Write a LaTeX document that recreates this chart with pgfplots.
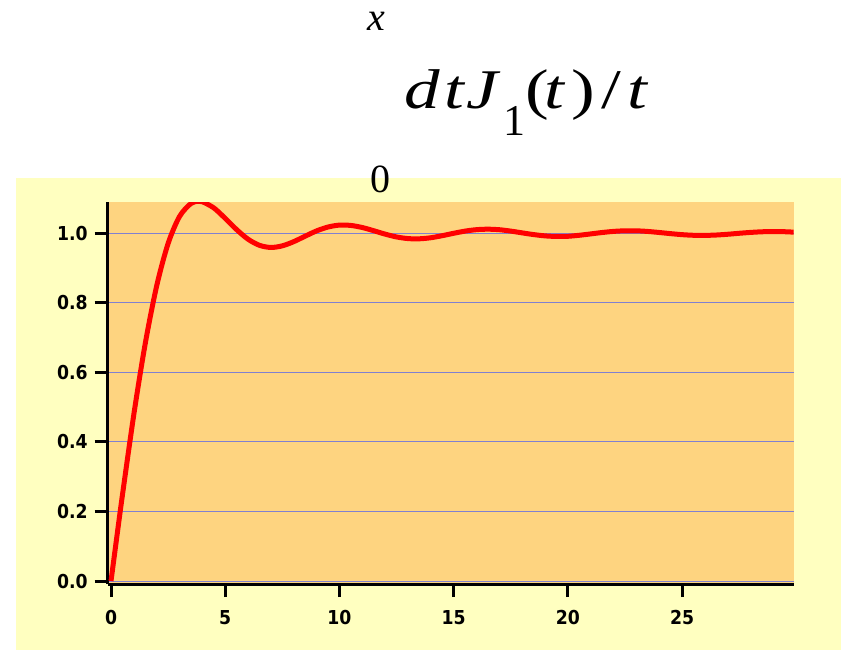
\documentclass[border=0pt]{standalone}
\usepackage{fontspec}
\setmainfont{Liberation Serif}
\setsansfont{DejaVu Sans}
\newfontfamily\tickfont{DejaVu Sans Condensed}
\usepackage{graphicx}
\usepackage{pgfplots}
\pgfplotsset{compat=1.18}
\definecolor{outeryellow}{RGB}{255,255,192}
\definecolor{plotorange}{RGB}{254,212,128}
\definecolor{gridblue}{RGB}{128,128,208}

% one glyph of the title in a box of fixed width
\newcommand{\gl}[2]{\makebox[#1][l]{#2}}

\begin{document}
\begin{tikzpicture}
% page: 841 x 650 px at 0.5pt per px
\useasboundingbox (0,0) rectangle (420.5pt,-325pt);
\fill[white] (0,0) rectangle (420.5pt,-325pt);
\fill[outeryellow] (8pt,-89pt) rectangle (420.5pt,-325pt);

% title: integral of J1(t)/t from 0 to x (integral sign not drawn)
\tikzset{tt/.style={anchor=base west, inner sep=0pt}}
\node[tt] at (183.5pt,-15pt) {\fontsize{20}{22}\selectfont\itshape x};
\node[tt] at (185pt,-96pt) {\fontsize{20}{22}\selectfont 0};
\node[tt] at (202pt,-54pt) {\fontsize{28}{32}\selectfont
  \gl{20pt}{\scalebox{1.27}[1]{\itshape d}}%
  \gl{11pt}{\scalebox{1.27}[1]{\itshape t}}%
  \gl{18.5pt}{\scalebox{1.27}[1]{\itshape J}}%
  \gl{11pt}{\raisebox{-13.5pt}{\fontsize{22}{24}\selectfont 1}}%
  \gl{9.5pt}{\scalebox{1.27}[1]{(}}%
  \gl{13.5pt}{\scalebox{1.27}[1]{\itshape t}}%
  \gl{15pt}{\scalebox{1.27}[1]{)}}%
  \gl{13pt}{\scalebox{1.27}[1]{/}}%
  \scalebox{1.27}[1]{\itshape t}};

\begin{axis}[
    at={(53.85pt,-292pt)}, anchor=south west,
    scale only axis,
    width=343pt, height=191pt,
    xmin=-0.145, xmax=29.88,
    ymin=-0.0086, ymax=1.09,
    axis x line=bottom, axis y line=left,
    axis line style={-, line width=1.5pt, black},
    axis background/.style={fill=plotorange},
    xtick={0,5,10,15,20,25},
    ytick={0,0.2,0.4,0.6,0.8,1.0},
    yticklabel style={/pgf/number format/.cd, fixed, fixed zerofill, precision=1},
    xticklabel style={yshift=-3pt},
    /pgf/number format/assume math mode=true,
    tick align=outside,
    major tick length=6.5pt,
    tick style={line width=1.5pt, black},
    ticklabel style={font=\fontsize{9.6}{11}\selectfont\tickfont\bfseries},
    ymajorgrids=true,
    grid style={gridblue, line width=0.5pt},
]
\addplot[red, line width=2.5pt, smooth] coordinates {
(0,0) (0.25,0.1247) (0.5,0.2474) (1,0.4797) (1.5,0.6835) (2,0.8491)
(2.5,0.9709) (3,1.0485) (3.5,1.0859) (3.83,1.0922) (4,1.0908) (4.5,1.0730)
(5,1.0429) (5.5,1.0105) (6,0.9829) (6.5,0.9654) (7,0.9593) (7.5,0.9640)
(8,0.9761) (8.5,0.9918) (9,1.0070) (9.5,1.0181) (10,1.0236) (10.5,1.0226)
(11,1.0166) (11.5,1.0074) (12,0.9976) (12.5,0.9895) (13,0.9848) (13.5,0.9842)
(14,0.9873) (14.5,0.9932) (15,1.0001) (15.5,1.0063) (16,1.0105) (16.5,1.0118)
(17,1.0103) (17.5,1.0063) (18,1.0012) (18.5,0.9963) (19,0.9926) (19.5,0.9909)
(20,0.9914) (20.5,0.9944) (21,0.9983) (21.5,1.0023) (22,1.0055) (22.5,1.0072)
(23,1.0071) (23.5,1.0053) (24,1.0023) (24.5,0.9990) (25,0.9961) (25.5,0.9943)
(26,0.9940) (26.5,0.9951) (27,0.9973) (27.5,1.0001) (28,1.0026) (28.5,1.0044)
(29,1.0051) (29.5,1.0045) (30,1.0029)
};
\end{axis}
\end{tikzpicture}
\end{document}
